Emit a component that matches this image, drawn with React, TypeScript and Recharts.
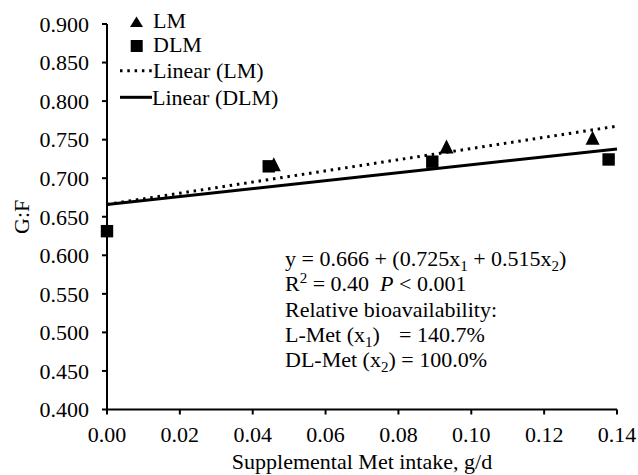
import React from 'react';
import { ComposedChart, XAxis, YAxis, Scatter, Line, Legend, Customized } from 'recharts';

const FONT = '"Liberation Serif", "Times New Roman", Times, serif';

// Tick values
const xTicks = [0, 0.02, 0.04, 0.06, 0.08, 0.1, 0.12, 0.14];
const yTicks = [0.4, 0.45, 0.5, 0.55, 0.6, 0.65, 0.7, 0.75, 0.8, 0.85, 0.9];

// LM observations (triangles)
const lmX = [0.0458, 0.0932, 0.1333];
const lmY = [0.718, 0.741, 0.7525];

// DLM observations (squares)
const dlmX = [0, 0.0444, 0.0893, 0.1377];
const dlmY = [0.6313, 0.7154, 0.7214, 0.7243];

// Linear trend lines (end points)
const trendX = [0, 0.14];
const lmTrendY = [0.666, 0.7675];
const dlmTrendY = [0.666, 0.738];

const lmData = lmX.map((x, i) => ({ x, y: lmY[i] }));
const dlmData = dlmX.map((x, i) => ({ x, y: dlmY[i] }));
const lmTrend = trendX.map((x, i) => ({ x, y: lmTrendY[i] }));
const dlmTrend = trendX.map((x, i) => ({ x, y: dlmTrendY[i] }));

const TriangleShape = (props: any) => {
  const { cx, cy } = props;
  const s = 7;
  return <path d={`M${cx},${cy - s} L${cx + s},${cy + s} L${cx - s},${cy + s} Z`} fill="#000" />;
};

const SquareShape = (props: any) => {
  const { cx, cy } = props;
  const s = 6.2;
  return <rect x={cx - s} y={cy - s} width={2 * s} height={2 * s} fill="#000" />;
};

const LegendContent = () => (
  <svg width={300} height={112} style={{ display: 'block', fontFamily: FONT }}>
    <path d="M136.5,16.5 L143,27 L130,27 Z" fill="#000" />
    <text x={153} y={28.3} fontSize={22} fill="#000">LM</text>
    <rect x={130.7} y={40} width={12} height={12} fill="#000" />
    <text x={153} y={52.3} fontSize={22} fill="#000">DLM</text>
    <line x1={120} y1={70.7} x2={152} y2={70.7} stroke="#000" strokeWidth={3} strokeDasharray="2.5 4.8" />
    <text x={153} y={78.3} fontSize={22} fill="#000">Linear (LM)</text>
    <line x1={120} y1={97.3} x2={152} y2={97.3} stroke="#000" strokeWidth={3} />
    <text x={152} y={105} fontSize={22} fill="#000">Linear (DLM)</text>
  </svg>
);

const Annotation = () => (
  <g fontFamily={FONT} fontSize={22} fill="#000">
    <text x={285} y={265.5} style={{ whiteSpace: 'pre' }}>
      y = 0.666 + (0.725x<tspan fontSize={15} dy={5}>1</tspan>
      <tspan dy={-5}> + 0.515x</tspan>
      <tspan fontSize={15} dy={5}>2</tspan>
      <tspan dy={-5}>)</tspan>
    </text>
    <text x={285} y={291} style={{ whiteSpace: 'pre' }}>
      R<tspan fontSize={15} dy={-8}>2</tspan>
      <tspan dy={8}> = 0.40  </tspan>
      <tspan fontStyle="italic">P</tspan>
      <tspan> &lt; 0.001</tspan>
    </text>
    <text x={285} y={316.5}>Relative bioavailability:</text>
    <text x={285} y={342} style={{ whiteSpace: 'pre' }}>
      L-Met (x<tspan fontSize={15} dy={5}>1</tspan>
      <tspan dy={-5}>)</tspan>
      <tspan x={399}>= 140.7%</tspan>
    </text>
    <text x={285} y={367} style={{ whiteSpace: 'pre' }}>
      DL-Met (x<tspan fontSize={15} dy={5}>2</tspan>
      <tspan dy={-5}>) = 100.0%</tspan>
    </text>
  </g>
);

const tickStyle = { fill: '#000', fontSize: 22, fontFamily: FONT };

export default function App() {
  return (
    <div style={{ position: 'absolute', left: 0, top: 0, background: '#fff' }}>
      <ComposedChart
        width={638}
        height={475}
        margin={{ top: 24, right: 21, left: 0, bottom: 0 }}
        style={{ fontFamily: FONT }}
      >
        <XAxis
          type="number"
          dataKey="x"
          domain={[0, 0.14]}
          ticks={xTicks}
          interval={0}
          tickFormatter={(v: number) => v.toFixed(2)}
          height={65.5}
          tickSize={5}
          tickMargin={12}
          axisLine={{ stroke: '#000', strokeWidth: 2 }}
          tickLine={{ stroke: '#000', strokeWidth: 2 }}
          tick={tickStyle}
          label={{ value: 'Supplemental Met intake, g/d', position: 'insideBottom', offset: 6, fill: '#000', fontSize: 22, fontFamily: FONT }}
        />
        <YAxis
          type="number"
          domain={[0.4, 0.9]}
          ticks={yTicks}
          interval={0}
          tickFormatter={(v: number) => v.toFixed(3)}
          width={107}
          tickSize={5}
          tickMargin={13}
          axisLine={{ stroke: '#000', strokeWidth: 2 }}
          tickLine={{ stroke: '#000', strokeWidth: 2 }}
          tick={tickStyle}
          label={{ value: 'G:F', angle: -90, position: 'insideLeft', offset: 21.5, fill: '#000', fontSize: 22, fontFamily: FONT, style: { textAnchor: 'middle' } }}
        />
        <Line
          data={lmTrend}
          dataKey="y"
          type="linear"
          stroke="#000"
          strokeWidth={3}
          strokeDasharray="2.5 4.8"
          dot={false}
          activeDot={false}
          isAnimationActive={false}
          legendType="none"
        />
        <Line
          data={dlmTrend}
          dataKey="y"
          type="linear"
          stroke="#000"
          strokeWidth={3}
          dot={false}
          activeDot={false}
          isAnimationActive={false}
          legendType="none"
        />
        <Scatter data={dlmData} dataKey="y" shape={<SquareShape />} isAnimationActive={false} />
        <Scatter data={lmData} dataKey="y" shape={<TriangleShape />} isAnimationActive={false} />
        <Legend
          layout="horizontal"
          verticalAlign="middle"
          align="center"
          content={<LegendContent />}
          wrapperStyle={{ left: 0, top: 0, width: 300, height: 112, margin: 0 }}
        />
        <Customized component={Annotation} />
      </ComposedChart>
    </div>
  );
}
